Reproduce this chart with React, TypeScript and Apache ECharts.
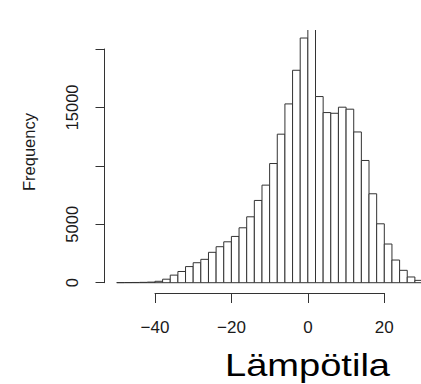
import React, { useEffect, useRef } from "react";
import * as echarts from "echarts";

// Histogram bin left edges (°C), bin width 2
const binStarts = [
  -50, -48, -46, -44, -42, -40, -38, -36, -34, -32,
  -30, -28, -26, -24, -22, -20, -18, -16, -14, -12,
  -10, -8, -6, -4, -2, 0, 2, 4, 6, 8,
  10, 12, 14, 16, 18, 20, 22, 24, 26, 28,
];
const binWidth = 2;
const counts = [
  10, 15, 20, 30, 50, 120, 300, 650, 960, 1380,
  1710, 2000, 2600, 3080, 3500, 3960, 4700, 5640, 7040, 8350,
  10200, 12710, 15300, 18180, 20940, 23000, 15930, 14560, 14500, 15020,
  14850, 12900, 10460, 7610, 5040, 3310, 1940, 1060, 490, 200,
];
const xTicks = [-40, -20, 0, 20];
const yTicks = [0, 5000, 10000, 15000, 20000];
// R drops labels that would overlap: only these are printed
const yTickLabels = ["0", "5000", "", "15000", ""];
const xTitle = "Lämpötila";
const yTitle = "Frequency";

const LINE = "#333333";
const TEXT = "#1a1a1a";
const FONT = "'Liberation Sans', Arial, Helvetica, sans-serif";

export default function App() {
  const ref = useRef<HTMLDivElement>(null);

  useEffect(() => {
    if (!ref.current) return;
    const chart = echarts.init(ref.current, undefined, { renderer: "svg" });
    const data = binStarts.map((s, i) => [s, s + binWidth, counts[i]]);

    chart.setOption({
      animation: false,
      backgroundColor: "#ffffff",
      textStyle: { fontFamily: FONT },
      grid: [
        { left: 104.5, right: 0, top: 30, bottom: 91 },
        { left: 104.5, top: 49, height: 233.7, width: 1 },
        { left: 155, width: 229.3, top: 283, height: 10 },
      ],
      xAxis: [
        { gridIndex: 0, type: "value", min: -53.2, max: 29.6, show: false },
        { gridIndex: 1, type: "value", show: false },
        {
          gridIndex: 2,
          type: "value",
          min: xTicks[0],
          max: xTicks[xTicks.length - 1],
          interval: 20,
          axisLine: { show: true, lineStyle: { color: LINE, width: 1 } },
          axisTick: { show: true, length: 10, lineStyle: { color: LINE, width: 1 } },
          splitLine: { show: false },
          axisLabel: {
            show: true,
            margin: 26,
            fontSize: 17,
            color: TEXT,
            fontFamily: FONT,
            formatter: (v: number) => String(v).replace("-", "\u2212"),
          },
        },
      ],
      yAxis: [
        { gridIndex: 0, type: "value", min: -881, max: 21626, show: false },
        {
          gridIndex: 1,
          type: "value",
          min: yTicks[0],
          max: yTicks[yTicks.length - 1],
          interval: 5000,
          axisLine: { show: true, lineStyle: { color: LINE, width: 1 } },
          axisTick: { show: true, length: 9, lineStyle: { color: LINE, width: 1 } },
          splitLine: { show: false },
          axisLabel: {
            show: true,
            rotate: 90,
            margin: 24,
            fontSize: 16.5,
            color: TEXT,
            fontFamily: FONT,
            formatter: (v: number) => {
              const i = yTicks.indexOf(v);
              return i >= 0 ? yTickLabels[i] : "";
            },
          },
        },
        { gridIndex: 2, type: "value", show: false },
      ],
      series: [
        {
          type: "custom",
          xAxisIndex: 0,
          yAxisIndex: 0,
          clip: true,
          data,
          renderItem: (params: any, api: any) => {
            const p0 = api.coord([api.value(0), 0]);
            const p1 = api.coord([api.value(1), api.value(2)]);
            return {
              type: "rect",
              shape: {
                x: p0[0],
                y: p1[1],
                width: p1[0] - p0[0],
                height: p0[1] - p1[1],
              },
              style: { fill: "#ffffff", stroke: LINE, lineWidth: 1 },
            };
          },
        },
      ],
      graphic: [
        {
          type: "text",
          x: 29,
          y: 152,
          rotation: Math.PI / 2,
          style: {
            text: yTitle,
            fontSize: 16.5,
            fontFamily: FONT,
            fill: TEXT,
            textAlign: "center",
            textVerticalAlign: "middle",
          },
        },
        {
          type: "text",
          x: 307.5,
          y: 365,
          scaleX: 1.19,
          style: {
            text: xTitle,
            fontSize: 32,
            fontFamily: FONT,
            fill: "#000000",
            textAlign: "center",
            textVerticalAlign: "middle",
          },
        },
      ],
    });

    return () => chart.dispose();
  }, []);

  return (
    <div
      ref={ref}
      style={{ position: "absolute", left: 0, top: 0, width: 421, height: 384 }}
    />
  );
}
